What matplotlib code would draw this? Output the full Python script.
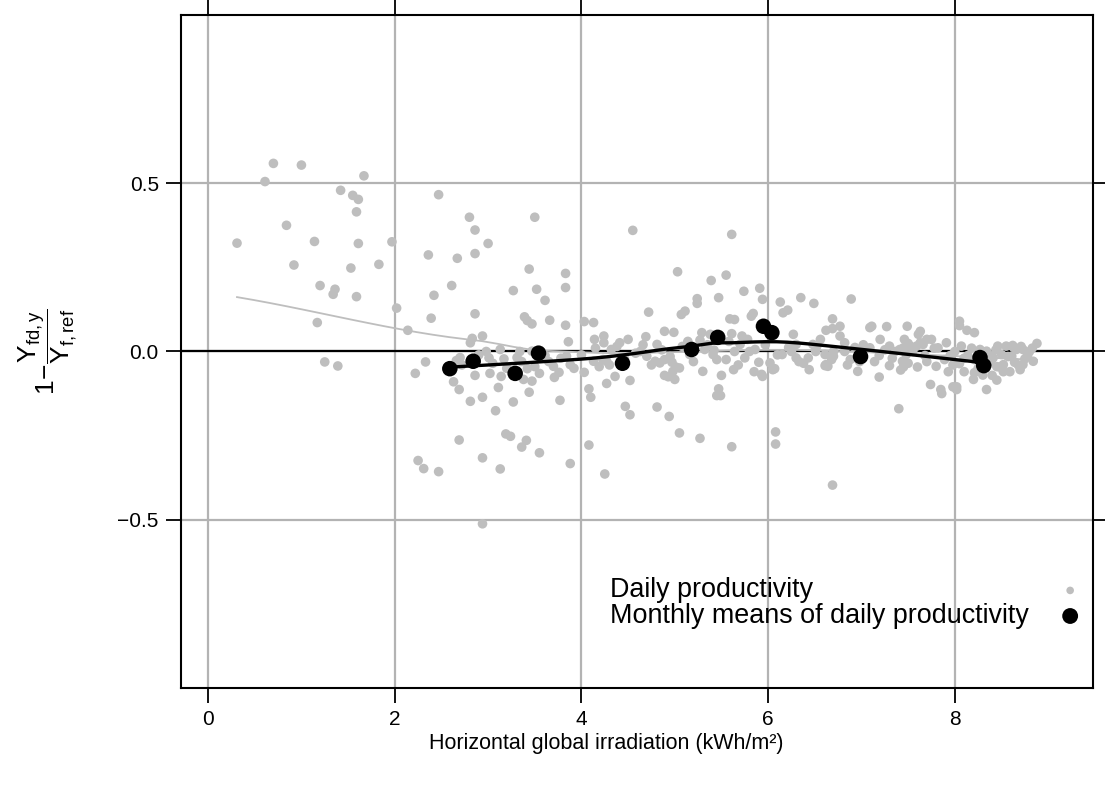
import numpy as np
import matplotlib
matplotlib.use("Agg")
import matplotlib.pyplot as plt

plt.rcParams["font.family"] = ["Liberation Sans", "DejaVu Sans"]
plt.rcParams["mathtext.fontset"] = "custom"
plt.rcParams["mathtext.rm"] = "Liberation Sans"
plt.rcParams["mathtext.it"] = "Liberation Sans:italic"
plt.rcParams["mathtext.bf"] = "Liberation Sans:bold"

# daily productivity
daily_x = [
    0.70, 1.00, 0.61, 1.67, 1.42, 1.55, 1.61, 1.59, 2.47, 0.84, 0.31, 1.14, 1.61, 1.97, 0.92, 1.53, 1.83, 1.20,
    1.36, 1.34, 1.59, 1.17, 2.80, 2.86, 3.00, 2.86, 2.36, 2.67, 3.50, 3.44, 3.83, 3.83, 3.52, 3.27, 3.61, 2.61,
    2.42, 2.02, 2.39, 2.14, 2.86, 3.39, 3.42, 3.47, 3.66, 3.83, 3.86, 2.94, 2.83, 2.81, 4.03, 4.13, 4.14,
    1.25, 1.39, 2.33, 2.22, 2.66, 2.63, 2.69, 2.81, 2.94, 2.86, 3.02, 3.14, 3.11, 3.08, 3.27, 3.44, 3.38, 3.47,
    3.55, 3.71, 3.76, 3.77, 2.69, 3.19, 3.24, 3.41, 3.36, 3.55, 2.94, 2.25, 2.31, 2.47, 3.13, 3.88, 2.94,
    2.98, 3.01, 3.17, 3.31, 3.42, 3.70, 3.88, 4.03, 4.08, 4.10, 4.13, 4.19, 3.47, 3.84, 2.70, 3.13, 3.34, 3.61,
    4.24, 4.24, 4.23, 4.50, 4.41, 4.32, 4.27, 4.36, 4.27, 4.47, 4.52, 4.81, 4.94,
    4.72, 4.69, 4.89, 4.99, 5.07, 5.11, 5.24, 5.24, 5.47, 5.74, 5.91, 5.94,
    4.70, 4.79, 4.84, 4.89, 4.97, 5.01, 5.05, 4.98, 4.93, 5.00,
    5.29, 5.38, 5.27, 5.41, 5.45, 5.55, 5.30, 5.50, 5.63, 5.47, 5.45, 5.49,
    5.59, 5.64, 5.61, 5.72, 5.82, 5.84, 5.75, 5.86, 5.85, 5.93, 5.90, 6.02, 6.05,
    6.13, 6.16, 6.21, 6.27, 6.15, 6.30, 6.43, 6.44, 6.35, 6.49, 6.30, 6.48,
    4.55, 5.61, 5.03, 5.39, 5.55,
    6.89, 6.69, 6.62, 6.69, 6.77, 6.77, 6.69, 6.08, 6.08, 5.61, 5.27, 5.05, 4.25, 4.08, 4.52, 4.89, 5.94, 6.07,
    6.62, 6.64,
    6.82, 7.09, 7.11, 7.27, 7.49, 7.63, 7.61, 7.70, 7.75, 7.63,
    7.46, 7.50, 7.52, 7.45, 7.41, 7.48, 7.59, 7.66, 7.91, 7.82,
    8.05, 8.05, 8.13, 8.21, 8.07, 8.46, 8.55, 8.62, 8.73, 8.88,
    6.61, 6.61, 6.70, 6.68, 6.88, 6.96, 7.19, 7.09, 7.19, 7.30,
    7.30, 7.45, 7.44, 7.60, 7.80, 7.40, 7.74, 7.85, 7.86, 7.98,
    8.02, 8.02, 8.10, 8.21, 8.20, 8.34, 8.45, 8.40, 8.48, 8.52,
    8.64, 8.73, 8.75, 8.61, 8.50, 8.34, 8.36, 8.41, 8.84, 8.14,
    8.27, 8.66, 7.95, 6.93, 7.00, 4.63, 5.16, 5.32, 5.64, 5.70,
    6.22, 6.33, 6.51, 6.56, 6.82, 6.98, 7.20, 7.36, 7.68, 7.89,
    8.21, 8.32, 8.59, 8.80, 8.05, 5.78, 4.81, 5.14, 8.70,
    # overlapping points inside the dense band around zero
    2.72, 2.90, 3.05, 3.20, 3.36, 3.50, 3.65, 3.78, 3.92, 4.00,
    4.15, 4.30, 4.38, 4.46, 4.58, 4.66, 4.75, 4.86, 4.95, 5.08,
    5.20, 5.35, 5.42, 5.58, 5.68, 5.80, 5.97, 6.10, 6.25, 6.38,
    6.52, 6.70, 6.85, 7.02, 7.14, 7.25, 7.33, 7.42, 7.55, 7.70,
    7.78, 7.93, 8.00, 8.10, 8.18, 8.25, 8.30, 8.38, 8.44, 8.52,
    8.57, 8.63, 8.68, 8.71, 8.78, 8.83, 8.45, 7.98, 7.50, 6.95,
]
daily_y = [
    0.559, 0.554, 0.505, 0.522, 0.479, 0.464, 0.452, 0.415, 0.466, 0.375, 0.322, 0.327, 0.321, 0.326, 0.257,
    0.248, 0.259, 0.196, 0.185, 0.170, 0.163, 0.086, 0.399, 0.361, 0.321, 0.291, 0.287, 0.277, 0.399, 0.245,
    0.232, 0.190, 0.185, 0.181, 0.152, 0.196, 0.167, 0.129, 0.099, 0.063, 0.112, 0.103, 0.092, 0.082, 0.093,
    0.078, 0.029, 0.046, 0.039, 0.026, 0.089, 0.086, 0.036,
    -0.031, -0.043, -0.031, -0.065, -0.027, -0.090, -0.113, -0.148, -0.136, -0.071, -0.065, -0.074, -0.107,
    -0.176, -0.150, -0.121, -0.083, -0.088, -0.065, -0.077, -0.062, -0.145,
    -0.263, -0.245, -0.252, -0.264, -0.284, -0.301, -0.316, -0.324, -0.348, -0.357, -0.349, -0.333, -0.512,
    0.000, -0.019, -0.022, -0.018, -0.051, -0.044, -0.039, -0.062, -0.111, -0.136, -0.029, -0.045, 0.001, -0.014,
    -0.018, 0.006, 0.000, -0.012,
    0.046, 0.026, -0.024, 0.036, 0.026, 0.006, -0.029, -0.074, -0.095, -0.163, -0.188, -0.165, -0.193,
    0.117, 0.044, 0.060, 0.057, 0.110, 0.120, 0.157, 0.143, 0.160, 0.179, 0.188, 0.155,
    -0.014, -0.029, -0.034, -0.024, -0.032, -0.046, -0.049, -0.059, -0.075, -0.083,
    0.056, 0.051, 0.034, -0.009, -0.024, -0.024, -0.059, -0.071, -0.054, -0.111, -0.131, -0.131,
    0.097, 0.095, 0.053, 0.046, 0.105, 0.113, -0.019, 0.006, -0.060, -0.068, -0.032, -0.034, -0.054,
    0.147, 0.115, 0.123, 0.051, -0.009, -0.019, -0.019, -0.054, 0.160, 0.143, 0.021, 0.021,
    0.360, 0.348, 0.237, 0.211, 0.227,
    0.156, 0.097, 0.063, 0.068, 0.075, 0.046, -0.397, -0.239, -0.275, -0.283, -0.258, -0.242, -0.364, -0.278,
    -0.086, -0.071, -0.074, -0.051, -0.039, -0.044,
    0.026, 0.071, 0.075, 0.074, 0.075, 0.060, 0.051, 0.036, 0.036, 0.026,
    0.036, 0.024, 0.016, 0.011, 0.006, -0.009, 0.016, 0.021, 0.026, 0.011,
    0.090, 0.077, 0.063, 0.056, 0.016, 0.016, 0.016, 0.018, 0.006, 0.024,
    -0.009, -0.042, -0.014, -0.024, -0.024, -0.059, -0.076, 0.011, -0.012, 0.016,
    -0.042, -0.046, -0.029, -0.046, -0.044, -0.170, -0.098, -0.113, -0.125, -0.105,
    -0.105, -0.113, -0.060, -0.063, -0.083, -0.113, -0.085, -0.071, -0.046, -0.039,
    -0.032, -0.039, -0.022, -0.014, -0.009, 0.001, -0.009, -0.019, -0.029, -0.012,
    0.006, 0.006, -0.012, 0.012, 0.000, 0.000, -0.009, 0.006, 0.000, 0.021,
    0.012, -0.030, 0.000, 0.036, 0.000, -0.030, 0.036, 0.000, -0.012, -0.024,
    -0.024, -0.039, -0.060, 0.000, -0.036, 0.036, 0.021, 0.030, -0.054,
    -0.040, -0.010, -0.035, -0.050, -0.030, -0.045, -0.030, -0.020, -0.050, -0.010,
    0.010, -0.040, 0.015, -0.020, -0.005, 0.020, -0.040, 0.005, -0.015, 0.015,
    -0.030, 0.020, 0.004, 0.030, -0.040, 0.000, 0.020, -0.010, 0.000, -0.035,
    0.015, 0.000, -0.040, 0.020, -0.030, 0.005, -0.020, -0.055, 0.000, -0.030,
    0.010, -0.060, 0.000, -0.020, 0.010, -0.050, -0.070, -0.030, 0.005, -0.060,
    -0.015, 0.012, -0.040, 0.015, -0.010, 0.010, -0.045, -0.040, -0.035, -0.020,
]

# monthly means of daily productivity
monthly_x = [2.59, 2.84, 3.29, 3.54, 4.44, 5.18, 5.46, 5.95, 6.04, 6.99, 8.27, 8.31]
monthly_y = [-0.051, -0.029, -0.065, -0.005, -0.035, 0.006, 0.042, 0.075, 0.056, -0.015, -0.018, -0.042]

x_ticks = [0, 2, 4, 6, 8]
y_ticks = [-0.5, 0.0, 0.5]
legend_labels = ["Daily productivity", "Monthly means of daily productivity"]


def loess_smooth(x, y, span=2/3, degree=1, iterations=4, evaluation=50, cell=0.2):
    # loess like R's loess.smooth: local fit at kd-tree vertices, cubic hermite in between,
    # tricube weights and bisquare robustness iterations ("symmetric" family)
    x = np.asarray(x, float)
    y = np.asarray(y, float)
    n = len(x)
    q = int(np.floor(n * span))
    fc = max(int(np.floor(n * span * cell)), 1)

    def splits(pts):
        if len(pts) <= fc:
            return []
        m = (len(pts) - 1) // 2
        v = (pts[m] + pts[m + 1]) / 2
        left = pts[pts <= v]
        right = pts[pts > v]
        if len(left) == 0 or len(right) == 0:
            return []
        return [v] + splits(left) + splits(right)

    xsort = np.sort(x)
    verts = np.unique(np.r_[xsort[0], xsort[-1], splits(xsort)])

    def local_fit(x0, rw):
        d = np.abs(x - x0)
        h = np.sort(d)[q - 1]
        w = np.clip(1 - (d / h) ** 3, 0, None) ** 3 * rw
        X = np.vander(x - x0, degree + 1, increasing=True)
        W = np.sqrt(w)
        coef, *_ = np.linalg.lstsq(X * W[:, None], y * W, rcond=None)
        return coef[0], coef[1]

    def surface(xq, rw):
        vs = np.array([local_fit(v, rw) for v in verts])
        xq = np.asarray(xq, float)
        i = np.clip(np.searchsorted(verts, xq) - 1, 0, len(verts) - 2)
        x0, x1 = verts[i], verts[i + 1]
        hh = x1 - x0
        t = (xq - x0) / hh
        h00 = 2 * t**3 - 3 * t**2 + 1
        h10 = t**3 - 2 * t**2 + t
        h01 = -2 * t**3 + 3 * t**2
        h11 = t**3 - t**2
        return h00 * vs[i, 0] + h10 * hh * vs[i, 1] + h01 * vs[i + 1, 0] + h11 * hh * vs[i + 1, 1]

    rob = np.ones(n)
    for it in range(iterations - 1):
        res = y - surface(x, rob)
        s = np.median(np.abs(res))
        u = res / (6 * s)
        rob = np.clip(1 - u ** 2, 0, None) ** 2
    xs = np.linspace(x.min(), x.max(), evaluation)
    return xs, surface(xs, rob)


fig = plt.figure(figsize=(11.05, 7.89), dpi=100)
ax = fig.add_axes([0.1638, 0.128, 0.8253, 0.853])

for t in x_ticks:
    ax.axvline(t, color="#b3b3b3", lw=1.6, zorder=0)
for t in y_ticks:
    ax.axhline(t, color="#b3b3b3", lw=1.6, zorder=0)
ax.axhline(0, color="black", lw=1.6, zorder=1)

ax.scatter(daily_x, daily_y, s=48, color="#bebebe", edgecolors="none", zorder=2)
sx, sy = loess_smooth(daily_x, daily_y)
ax.plot(sx, sy, color="#bebebe", lw=1.3, zorder=2)

ax.scatter(monthly_x, monthly_y, s=125, color="black", edgecolors="none", zorder=4)
mx, my = loess_smooth(monthly_x, monthly_y)
ax.plot(mx, my, color="black", lw=2.4, zorder=3)

ax.set_xlim(-0.29, 9.48)
ax.set_ylim(-1.0, 1.0)
ax.set_xticks(x_ticks)
ax.set_yticks(y_ticks)
ax.set_xticklabels([str(t) for t in x_ticks])
ax.set_yticklabels(["\u22120.5", "0.0", "0.5"])
ax.tick_params(direction="out", length=11, width=1.3, labelsize=15, pad=5,
               top=True, right=True, labeltop=False, labelright=False, color="black")
for sp in ax.spines.values():
    sp.set_linewidth(1.5)

ax.set_xlabel("Horizontal global irradiation (kWh/m\u00b2)", fontsize=15.5)
ax.xaxis.set_label_coords(0.466, -0.067)
ax.set_ylabel(r"$1\!-\!\dfrac{\mathrm{Y}_{\mathrm{fd,y}}}{\mathrm{Y}_{\mathrm{f,ref}}}$", fontsize=19)
ax.yaxis.set_label_coords(-0.112, 0.5)

# key inside the panel: text left, symbols right (lattice style)
key_rows = [0.145, 0.107]
ax.text(0.470, key_rows[0], legend_labels[0], transform=ax.transAxes, fontsize=19.4, va="center", ha="left")
ax.text(0.470, key_rows[1], legend_labels[1], transform=ax.transAxes, fontsize=19.4, va="center", ha="left")
ax.scatter([0.975], [key_rows[0]], s=30, color="#bebebe", edgecolors="none", transform=ax.transAxes, clip_on=False)
ax.scatter([0.975], [key_rows[1]], s=130, color="black", edgecolors="none", transform=ax.transAxes, clip_on=False)

fig.savefig("out.png", dpi=100)
